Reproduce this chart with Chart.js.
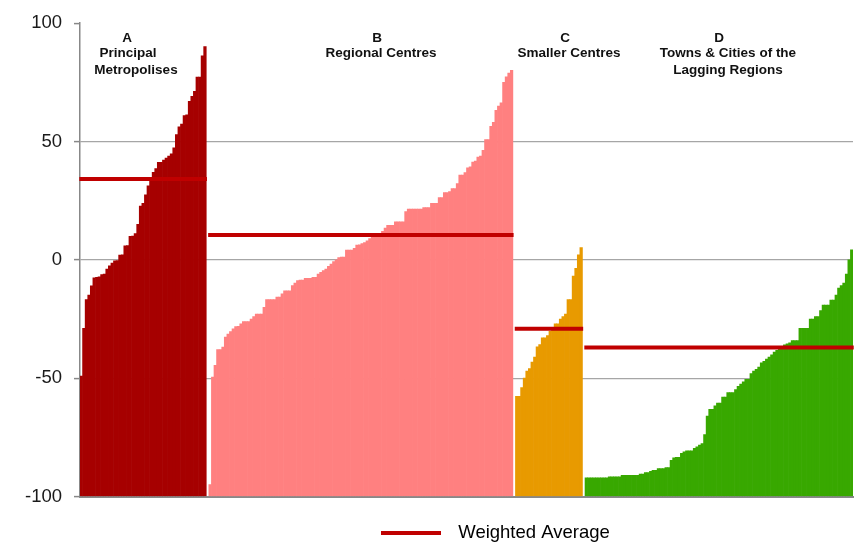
<!DOCTYPE html>
<html><head><meta charset="utf-8">
<script src="https://cdn.jsdelivr.net/npm/chart.js@4.4.1/dist/chart.umd.min.js"></script>
<style>html,body{margin:0;padding:0;background:#fff;}</style>
</head><body>
<canvas id="c" width="863" height="554"></canvas>
<script>
// ---------- DATA ----------
const groupLetters = ['A', 'B', 'C', 'D'];
const groupTitles = [
  ['A', 'Principal', 'Metropolises'],
  ['B', 'Regional Centres'],
  ['C', 'Smaller Centres'],
  ['D', 'Towns & Cities of the', 'Lagging Regions']
];
const groupA = [-49.1, -28.9, -16.8, -14.9, -11, -7.6, -7.4, -7.2, -6.2, -6.0, -3.9, -2.5, -1.4, -0.4, -0.3,
  2.0, 2.1, 5.9, 6.0, 9.9, 10.0, 11.1, 15.0, 22.7, 23.9, 27.4, 31.2, 33.2, 37, 38.5, 41.2, 41.2, 42.1, 43,
  43.8, 44.8, 47.3, 52.9, 56.2, 57.3, 60.9, 61.2, 67, 69.1, 71.2, 77.2, 77.2, 86.2, 90.1];
const groupB = [-95, -49.5, -44.6, -37.9, -37.9, -36.9, -32.7, -31.4, -30.3, -29.2, -28.2, -28.1, -27.1,
  -26.1, -26.1, -26.1, -25, -24, -22.9, -22.9, -22.9, -20.1, -16.8, -16.8, -16.8, -16.8, -15.8, -15.8,
  -14.4, -13.1, -13.1, -13.1, -10.9, -9.8, -8.8, -8.6, -8.6, -7.8, -7.8, -7.8, -7.4, -7.4, -6, -5.3, -4.6,
  -3.9, -2.8, -1.8, -0.8, 0, 0.9, 1.1, 1.1, 4.1, 4.1, 4.1, 4.8, 6.2, 6.3, 6.9, 7.3, 8, 9, 9.9, 10.2,
  10.6, 10.6, 12, 13.4, 14.6, 14.6, 14.6, 16, 16, 16, 16, 20.4, 21.4, 21.4, 21.4, 21.4, 21.4, 21.4,
  22.1, 22.1, 22.1, 23.9, 23.9, 23.9, 26.3, 26.3, 28.4, 28.4, 28.8, 30.1, 30.1, 32.2, 35.8, 35.8, 36.8,
  38.9, 39.3, 41.3, 41.7, 43.4, 43.8, 46.3, 50.8, 50.8, 56.4, 58.1, 63.2, 64.9, 66.3, 75, 77.3, 78.9, 80];
const groupC = [-57.7, -57.7, -54, -50, -47, -46, -43.2, -41.1, -36.8, -35.8, -33, -33, -32, -30.2, -29.6,
  -27.1, -27.1, -25, -24, -22.9, -16.8, -16.8, -6.9, -3.6, 2.1, 5.2];
const groupD = [-92.1, -92.1, -92.1, -92.1, -92.1, -92.1, -92.1, -92.1, -92.1, -91.7, -91.7, -91.7, -91.7,
  -91.7, -91.1, -91.1, -91.1, -91.1, -91.1, -91.1, -91.1, -90.5, -90.5, -89.9, -89.9, -89.4, -88.9, -88.9,
  -88.2, -88.2, -88.2, -87.8, -87.8, -84.7, -83.7, -83.4, -83.4, -81.8, -81.1, -80.7, -80.7, -80.7, -79.7,
  -79, -78.3, -77.6, -73.8, -66, -63.2, -63.2, -61.7, -60.5, -60.5, -58, -58, -56.1, -56.1, -56.1, -54.8,
  -53.5, -52.5, -51.6, -50.5, -50.5, -48.1, -47, -46.3, -45.3, -43.5, -42.9, -41.9, -41.1, -40.1, -39,
  -38.2, -37.5, -36.9, -35.9, -35.5, -35.1, -34.1, -34.1, -34.1, -28.9, -28.9, -28.9, -28.9, -25, -25,
  -24, -24, -21.5, -19.1, -19.1, -19.1, -17, -17, -14.9, -12, -10.9, -9.8, -6, 0, 4.2];
const weightedAverages = [34.1, 10.5, -29.1, -37.1];
const yTicks = [-100, -50, 0, 50, 100];
const legendText = 'Weighted Average';

// ---------- STYLE ----------
const groupColors = ['#A60000', '#FF8080', '#E89A00', '#38A800'];
const avgColor = '#C00000';
const FONT = "'Liberation Sans', Arial, sans-serif";
const labelPos = [[127, 128, 136], [377, 381], [565, 569], [719, 728, 728]];
const labelRows = [38, 53, 70];

// ---------- BUILD ----------
const groups = [groupA, groupB, groupC, groupD];
const labels = [];
const barData = groups.map(() => []);
const avgData = [];
groups.forEach((g, gi) => {
  if (gi > 0) {
    labels.push('gap' + gi);
    barData.forEach(d => d.push(null));
    avgData.push(null);
  }
  g.forEach((v, i) => {
    labels.push(groupLetters[gi] + (i + 1));
    barData.forEach((d, di) => d.push(di === gi ? v : null));
    avgData.push(weightedAverages[gi]);
  });
});

const legendLine = document.createElement('canvas');
legendLine.width = 68; legendLine.height = 4;
(function(){ const c = legendLine.getContext('2d'); c.fillStyle = avgColor; c.fillRect(0, 0, 60, 4); })();

const datasets = groups.map((g, gi) => ({
  type: 'bar',
  label: groupTitles[gi].join(' '),
  data: barData[gi],
  backgroundColor: groupColors[gi],
  borderWidth: 0,
  base: -100,
  barPercentage: 1,
  categoryPercentage: 1,
  grouped: false,
  order: 1
}));
datasets.push({
  type: 'line',
  label: legendText,
  data: avgData,
  borderColor: avgColor,
  backgroundColor: avgColor,
  borderWidth: 4,
  borderCapStyle: 'square',
  pointRadius: 0,
  spanGaps: false,
  tension: 0,
  order: 0
});

const groupLabelPlugin = {
  id: 'groupLabels',
  afterDatasetsDraw(chart) {
    const ctx = chart.ctx;
    ctx.save();
    ctx.font = 'bold 13.5px ' + FONT;
    ctx.fillStyle = '#111';
    ctx.textAlign = 'center';
    ctx.textBaseline = 'middle';
    groupTitles.forEach((lines, gi) => {
      lines.forEach((t, li) => ctx.fillText(t, labelPos[gi][li], labelRows[li]));
    });
    ctx.restore();
  }
};

const legendPlace = {
  id: 'legendPlace',
  afterLayout(chart) {
    const lg = chart.legend;
    if (!lg || !lg.lineWidths) return;
    const p = lg.options.labels.padding;
    const cur = (lg.left + p + lg.right - lg.lineWidths[0]) / 2;
    const d = 381 - cur;
    lg.left += d; lg.right += d;
    const itemH = 18.5;
    const dy = (533 - itemH / 2 - p) - lg.top;
    lg.top += dy; lg.bottom += dy;
  }
};

new Chart(document.getElementById('c'), {
  data: { labels, datasets },
  options: {
    responsive: false,
    animation: false,
    layout: { padding: { top: 22, right: 10, left: 0, bottom: 0 } },
    plugins: {
      tooltip: { enabled: false },
      legend: {
        position: 'bottom',
        labels: {
          usePointStyle: true,
          pointStyleWidth: 68,
          padding: 10,
          color: '#1a1a1a',
          font: { family: FONT, size: 18.5 },
          generateLabels: () => [{
            text: legendText, pointStyle: legendLine, fillStyle: avgColor,
            strokeStyle: avgColor, lineWidth: 0, hidden: false, datasetIndex: 4
          }]
        }
      }
    },
    scales: {
      x: {
        type: 'category',
        ticks: { display: false },
        grid: { display: false, drawTicks: false },
        border: { display: true, color: '#888888', width: 2 },
        afterFit(s) { s.height = 19; }
      },
      y: {
        min: -100, max: 100,
        afterBuildTicks(s) { s.ticks = yTicks.map(v => ({ value: v })); },
        ticks: { font: { family: FONT, size: 18.5 }, color: '#1a1a1a', padding: 12 },
        grid: {
          color: c => (c.tick && Math.abs(c.tick.value) === 100) ? 'rgba(0,0,0,0)' : '#A6A6A6',
          lineWidth: 1.2, tickLength: 6, tickColor: '#888888', tickWidth: 1.5
        },
        border: { color: '#888888', width: 1.5 },
        afterFit(s) { s.width = 80; }
      }
    }
  },
  plugins: [groupLabelPlugin, legendPlace]
});
</script>
</body></html>
